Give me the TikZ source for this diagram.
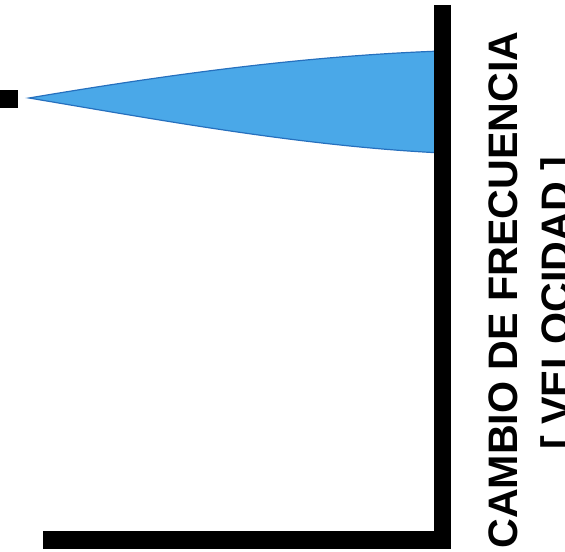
\documentclass[tikz,border=0pt]{standalone}
\usepackage{fontspec}
\setmainfont{Liberation Sans}
\definecolor{beamblue}{RGB}{74,168,232}
\definecolor{beamedge}{RGB}{38,112,190}
\begin{document}
\begin{tikzpicture}[x=0.5pt, y=-0.5pt]
    \tikzstyle{axisline}=[draw=black, line width=8.75pt, line join=miter]
    \tikzstyle{labeltext}=[font=\fontsize{20.6}{24}\selectfont\bfseries, rotate=90, anchor=base, inner sep=0pt]
    \tikzstyle{beam}=[fill=beamblue, draw=beamedge, line width=0.6pt]

    \useasboundingbox (0,0) rectangle (565,551);

    \node[fill=black, inner sep=0pt, minimum size=9pt] (source) at (8.5,99) {};

    % blue cone up to the axis
    \path[beam] (29,98) .. controls (160,76) and (300,56) .. (442,51)
        -- (442,153) .. controls (300,146) and (160,120) .. cycle;

    \draw[axisline] (442.5,5) -- (442.5,540) -- (43,540);

    \node[labeltext] (cambio) at (517,290) {CAMBIO DE FRECUENCIA};
    \node[labeltext] (velocidad) at (570,303.5) {[ VELOCIDAD ]};
\end{tikzpicture}
\end{document}
